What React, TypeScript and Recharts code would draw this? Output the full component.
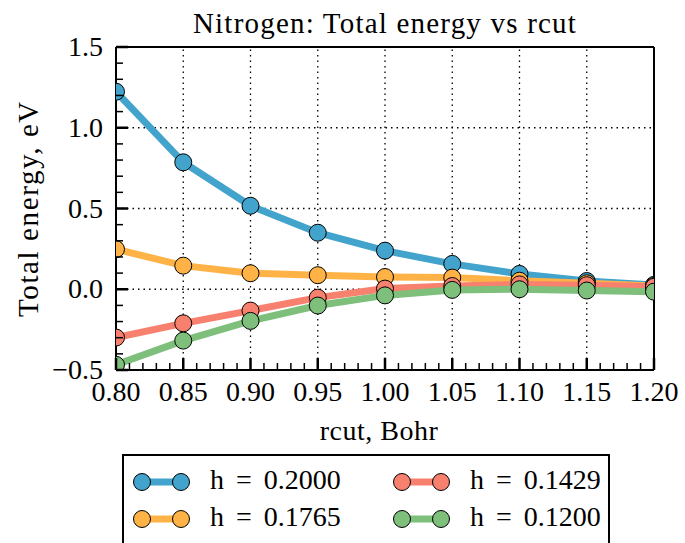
import { CartesianGrid, Line, LineChart, ReferenceLine, XAxis, YAxis } from 'recharts'

const rcut = [0.8, 0.85, 0.9, 0.95, 1.0, 1.05, 1.1, 1.15, 1.2]
const h2000 = [1.223, 0.786, 0.517, 0.35, 0.239, 0.157, 0.095, 0.051, 0.027]
const h1765 = [0.248, 0.146, 0.099, 0.087, 0.076, 0.072, 0.053, 0.037, 0.02]
const h1429 = [-0.299, -0.211, -0.132, -0.052, 0.004, 0.02, 0.03, 0.025, 0.015]
const h1200 = [-0.468, -0.318, -0.196, -0.101, -0.038, -0.004, 0.0, -0.008, -0.015]

const xMajor = [0.8, 0.85, 0.9, 0.95, 1.0, 1.05, 1.1, 1.15, 1.2]
const yMajor = [-0.5, 0, 0.5, 1.0, 1.5]
const yLabels = ['\u22120.5', '0.0', '0.5', '1.0', '1.5']

// minor tick positions (unlabelled)
const xMinor: number[] = []
for (let i = 80; i <= 120; i++) xMinor.push(i / 100)
const yMinor: number[] = []
for (let i = -5; i <= 15; i++) yMinor.push(i / 10)

const series = [
  { key: 'h2000', name: 'h = 0.2000', color: '#42a4cc' },
  { key: 'h1765', name: 'h = 0.1765', color: '#ffb347' },
  { key: 'h1429', name: 'h = 0.1429', color: '#f8806f' },
  { key: 'h1200', name: 'h = 0.1200', color: '#7dbf7b' },
]

const data = rcut.map((r, i) => ({
  rcut: r,
  h2000: h2000[i],
  h1765: h1765[i],
  h1429: h1429[i],
  h1200: h1200[i],
}))

const FONT = '"Liberation Serif", serif'
const isMajor = (v: number, list: number[]) => list.some((m) => Math.abs(m - v) < 1e-6)

const XTick = (props: any) => {
  const { x, y, payload } = props
  const major = isMajor(payload.value, xMajor)
  const axisY = y - 14
  return (
    <g>
      <line x1={x} x2={x} y1={axisY} y2={axisY - (major ? 12 : 7)} stroke="#000" strokeWidth={major ? 2.5 : 1.5} />
      {major && (
        <text x={x} y={axisY + 31} textAnchor="middle" fontSize={28} fontFamily={FONT} fill="#000">
          {payload.value.toFixed(2)}
        </text>
      )}
    </g>
  )
}

const YTick = (props: any) => {
  const { x, y, payload } = props
  const idx = yMajor.findIndex((m) => Math.abs(m - payload.value) < 1e-6)
  const axisX = x + 12
  return (
    <g>
      <line x1={axisX} x2={axisX + (idx >= 0 ? 12 : 7)} y1={y} y2={y} stroke="#000" strokeWidth={idx >= 0 ? 2.5 : 1.5} />
      {idx >= 0 && (
        <text x={axisX - 13} y={y + 9} textAnchor="end" fontSize={28} fontFamily={FONT} fill="#000">
          {yLabels[idx]}
        </text>
      )}
    </g>
  )
}

function LegendBox() {
  const cols = [
    [series[0], series[1]],
    [series[2], series[3]],
  ]
  return (
    <div
      style={{
        position: 'absolute',
        left: 122,
        top: 454,
        width: 484,
        height: 110,
        border: '2px solid #000',
        background: '#fff',
      }}
    >
      <svg width={484} height={110}>
        {cols.map((col, c) =>
          col.map((s, r) => {
            const x0 = 18 + c * 260
            const y0 = 26 + r * 37
            return (
              <g key={s.key}>
                <line x1={x0} x2={x0 + 39} y1={y0} y2={y0} stroke={s.color} strokeWidth={7} />
                <circle cx={x0} cy={y0} r={8.5} fill={s.color} stroke="#000" strokeWidth={1} />
                <circle cx={x0 + 39} cy={y0} r={8.5} fill={s.color} stroke="#000" strokeWidth={1} />
                <text x={x0 + 68} y={y0 + 7} fontSize={28} fontFamily={FONT} fill="#000" wordSpacing={5}>
                  {s.name}
                </text>
              </g>
            )
          })
        )}
      </svg>
    </div>
  )
}

export default function App() {
  return (
    <div style={{ position: 'relative', width: 685, height: 543, overflow: 'hidden', background: '#fff' }}>
      <style>{'body{margin:0}'}</style>
      <LineChart
        width={685}
        height={543}
        data={data}
        margin={{ top: 47, right: 31, bottom: 0, left: 0 }}
      >
        <XAxis
          dataKey="rcut"
          type="number"
          domain={[0.8, 1.2]}
          allowDataOverflow
          ticks={xMinor}
          interval={0}
          tick={<XTick />}
          tickLine={false}
          tickSize={0}
          tickMargin={14}
          height={173}
          axisLine={{ stroke: '#000', strokeWidth: 2 }}
          label={{
            value: 'rcut, Bohr',
            position: 'insideTop',
            offset: 50,
            fontSize: 28,
            fontFamily: FONT,
            fill: '#000',
            letterSpacing: 0.5,
            dx: -6,
          }}
        />
        <YAxis
          type="number"
          domain={[-0.5, 1.5]}
          allowDataOverflow
          ticks={yMinor}
          interval={0}
          tick={<YTick />}
          tickLine={false}
          tickSize={0}
          tickMargin={12}
          width={116}
          axisLine={{ stroke: '#000', strokeWidth: 2 }}
          label={{
            value: 'Total energy, eV',
            angle: -90,
            position: 'insideLeft',
            offset: 28,
            fontSize: 29,
            fontFamily: FONT,
            fill: '#000',
            letterSpacing: 1.6,
            style: { textAnchor: 'middle' },
          }}
        />
        <CartesianGrid stroke="none" fill="none" />
        {xMajor.slice(1, -1).map((v) => (
          <ReferenceLine key={'gx' + v} x={v} stroke="#000" strokeWidth={1.3} strokeDasharray="1.5 4" />
        ))}
        {yMajor.slice(1, -1).map((v) => (
          <ReferenceLine key={'gy' + v} y={v} stroke="#000" strokeWidth={1.3} strokeDasharray="1.5 4" />
        ))}
        {series.map((s) => (
          <Line
            key={s.key}
            dataKey={s.key}
            name={s.name}
            type="linear"
            stroke={s.color}
            strokeWidth={7}
            dot={{ r: 8.5, fill: s.color, stroke: '#000', strokeWidth: 1 }}
            activeDot={false}
            isAnimationActive={false}
          />
        ))}
        <ReferenceLine y={1.5} stroke="#000" strokeWidth={2} />
        <ReferenceLine x={1.2} stroke="#000" strokeWidth={2} />
        <text x={385} y={33} textAnchor="middle" fontSize={29} fontFamily={FONT} fill="#000" letterSpacing={1.2}>
          Nitrogen: Total energy vs rcut
        </text>
      </LineChart>
      <LegendBox />
    </div>
  )
}
